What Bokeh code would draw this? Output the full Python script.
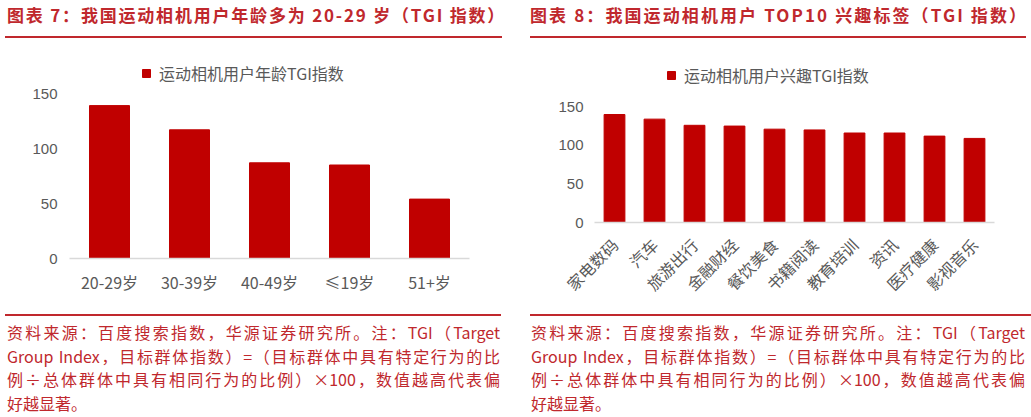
from math import pi
from bokeh.plotting import figure
from bokeh.models import Div, Range1d, FixedTicker
from bokeh.layouts import row, column
from bokeh.embed import file_html
from bokeh.resources import INLINE

# ---- data ----
age_groups = ["20-29岁", "30-39岁", "40-49岁", "≤19岁", "51+岁"]
age_tgi = [139, 117, 87, 85, 54]
interest_tags = ["家电数码", "汽车", "旅游出行", "金融财经", "餐饮美食",
                 "书籍阅读", "教育培训", "资讯", "医疗健康", "影视音乐"]
interest_tgi = [140, 134, 126, 125, 121, 120, 116, 116, 112, 109]
y_ticks = [0, 50, 100, 150]

title_left = "图表 7：我国运动相机用户年龄多为 20-29 岁（TGI 指数）"
title_right = "图表 8：我国运动相机用户 TOP10 兴趣标签（TGI 指数）"
legend_left = "运动相机用户年龄TGI指数"
legend_right = "运动相机用户兴趣TGI指数"
footer_lines = [
    "资料来源：百度搜索指数，华源证券研究所。注：TGI（Target",
    "Group Index，目标群体指数）=（目标群体中具有特定行为的比",
    "例÷总体群体中具有相同行为的比例）×100，数值越高代表偏",
    "好越显著。",
]

RED = "#C0282D"
BAR = "#C00000"
GRAY = "#595959"
CJK = "Noto Sans CJK SC"


def title_div(text, col_w, ml, line_w, pl, ls):
    html = (f'<div style="margin-left:{ml}px;width:{line_w}px;height:36px;box-sizing:content-box;'
            f'border-bottom:2px solid {RED};padding:0;">'
            f'<div style="padding-top:3px;padding-left:{pl}px;color:{RED};font-family:\'{CJK}\';'
            f'font-weight:bold;font-size:17px;line-height:24px;letter-spacing:{ls}px;'
            f'white-space:nowrap;">{text}</div></div>')
    return Div(text=html, width=col_w, height=38, margin=(0, 0, 0, 0))


def footer_div(col_w, ml, line_w, pl, pr):
    inner = "".join(
        f'<div style="text-align:justify;text-align-last:justify;white-space:nowrap;">{l}</div>'
        for l in footer_lines[:-1]) + f'<div>{footer_lines[-1]}</div>'
    html = (f'<div style="margin-left:{ml}px;width:{line_w}px;border-top:2px solid {RED};">'
            f'<div style="padding-top:5px;padding-left:{pl}px;padding-right:{pr}px;color:{RED};'
            f'font-family:\'{CJK}\';font-size:16px;line-height:23.5px;">{inner}</div></div>')
    return Div(text=html, width=col_w, height=103, margin=(0, 0, 0, 0))


def chart(cats, vals, legend_text, w, ytop, mbl, mbr, mbt, mbb, bw, loc, rotate,
          xsize, ystand, xstand):
    p = figure(x_range=cats, y_range=Range1d(0, ytop), width=w, height=276,
               output_backend="svg", toolbar_location=None,
               min_border_left=mbl, min_border_right=mbr,
               min_border_top=mbt, min_border_bottom=mbb)
    p.vbar(x=cats, top=vals, width=bw, color=BAR, legend_label=legend_text)
    p.xgrid.visible = False
    p.ygrid.visible = False
    p.outline_line_color = None
    p.background_fill_color = "white"
    p.border_fill_color = "white"

    ya = p.yaxis[0]
    ya.ticker = FixedTicker(ticks=y_ticks)
    ya.axis_line_color = None
    ya.major_tick_line_color = None
    ya.minor_tick_line_color = None
    ya.major_tick_out = 0
    ya.major_tick_in = 0
    ya.major_label_standoff = ystand
    ya.major_label_text_font = "Liberation Sans"
    ya.major_label_text_font_size = "15px"
    ya.major_label_text_color = GRAY

    xa = p.xaxis[0]
    xa.axis_line_color = "#D9D9D9"
    xa.axis_line_width = 1.5
    xa.major_tick_line_color = None
    xa.minor_tick_line_color = None
    xa.major_tick_out = 0
    xa.major_tick_in = 0
    xa.major_label_standoff = xstand
    xa.major_label_text_font = CJK
    xa.major_label_text_font_size = xsize
    xa.major_label_text_color = GRAY
    if rotate:
        xa.major_label_orientation = pi / 4

    lg = p.legend[0]
    lg.location = loc
    lg.border_line_color = None
    lg.background_fill_alpha = 0
    lg.padding = 0
    lg.margin = 0
    lg.spacing = 0
    lg.glyph_width = 10
    lg.glyph_height = 10
    lg.label_height = 20
    lg.label_standoff = 8
    lg.label_text_font = CJK
    lg.label_text_font_size = "16px"
    lg.label_text_color = GRAY
    return p


WL, WR = 502, 501
left_fig = chart(age_groups, age_tgi, legend_left, WL, 180, 69, 33, 22, 56, 0.5,
                 (72, 173), False, "16px", 12, 11)
right_fig = chart(interest_tags, interest_tgi, legend_right, WR, 210, 64, 37, 22, 92, 0.52,
                  (72, 135), True, "16px", 11, 19)

left_col = column(title_div(title_left, WL, 5, 497, 2, 1.8), left_fig,
                  footer_div(WL, 5, 496, 2, 1), spacing=0)
right_col = column(title_div(title_right, WR, 0, 496, 0, 2.1), right_fig,
                   footer_div(WR, 0, 501, 1, 6), spacing=0)
layout = row(left_col, right_col, spacing=28)

open("out.html", "w").write(file_html(layout, INLINE))
